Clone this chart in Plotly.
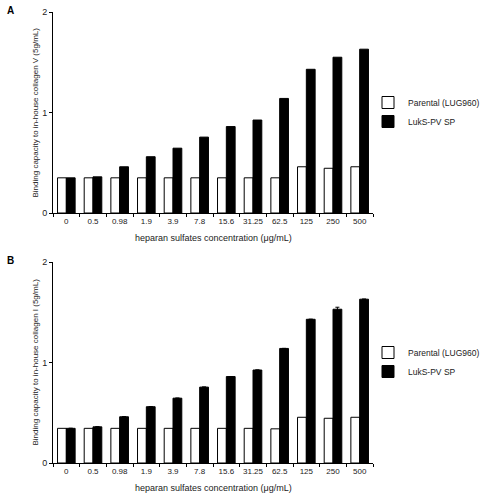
import plotly.graph_objects as go

categories = ["0", "0.5", "0.98", "1.9", "3.9", "7.8", "15.6", "31.25", "62.5", "125", "250", "500"]

parental_A = [0.35, 0.35, 0.35, 0.35, 0.35, 0.35, 0.35, 0.35, 0.35, 0.46, 0.445, 0.46]
luks_A = [0.35, 0.36, 0.46, 0.56, 0.645, 0.755, 0.86, 0.925, 1.14, 1.43, 1.55, 1.63]

parental_B = [0.345, 0.345, 0.345, 0.345, 0.345, 0.345, 0.345, 0.345, 0.34, 0.455, 0.445, 0.455]
luks_B = [0.345, 0.36, 0.46, 0.56, 0.645, 0.755, 0.86, 0.925, 1.14, 1.43, 1.53, 1.63]
luks_B_err = [0, 0, 0, 0, 0, 0, 0, 0, 0, 0, 0.02, 0]

series_names = ["Parental (LUG960)", "LukS-PV SP"]
y_titles = ["Binding capacity to in-house collagen V (5g/mL)",
            "Binding capacity to in-house collagen I (5g/mL)"]
x_title = "heparan sulfates concentration (μg/mL)"
panel_labels = ["A", "B"]

FONT = "Liberation Sans, Arial, sans-serif"
TXT = "#222222"

fig = go.Figure()

panels = [
    (parental_A, luks_A, None, "x", "y", "legend"),
    (parental_B, luks_B, luks_B_err, "x2", "y2", "legend2"),
]
for par, luk, err, xa, ya, lg in panels:
    fig.add_trace(go.Bar(x=categories, y=par, name=series_names[0], xaxis=xa, yaxis=ya,
                         marker=dict(color="white", line=dict(color="black", width=1)),
                         legend=lg))
    eb = None
    if err is not None:
        eb = dict(type="data", array=err, color="black", thickness=1, width=2)
    fig.add_trace(go.Bar(x=categories, y=luk, name=series_names[1], xaxis=xa, yaxis=ya,
                         marker=dict(color="black", line=dict(color="black", width=1)),
                         error_y=eb, legend=lg))

xd = [53 / 481, 373 / 481]
ydA = [1 - 213 / 500, 1 - 12 / 500]
ydB = [1 - 463 / 500, 1 - 262 / 500]

xcommon = dict(domain=xd, type="category", showline=True, linecolor="black", linewidth=1,
               ticks="outside", tickson="boundaries", ticklen=3, tickcolor="black",
               tickangle=0, automargin=False,
               tickfont=dict(family=FONT, size=8, color=TXT), showgrid=False, zeroline=False)
ycommon = dict(range=[0, 2], tickvals=[0, 1, 2], showline=True, linecolor="black", linewidth=1,
               ticks="outside", ticklen=3, tickcolor="black", automargin=False,
               tickfont=dict(family=FONT, size=9, color=TXT), showgrid=False, zeroline=False)

legcommon = dict(font=dict(family=FONT, size=8.5, color=TXT), bgcolor="rgba(0,0,0,0)",
                 itemwidth=30, tracegroupgap=0, xanchor="left", yanchor="middle",
                 xref="container", yref="container", x=368 / 481)

fig.update_layout(
    width=481, height=500,
    margin=dict(l=0, r=0, t=0, b=0, autoexpand=False),
    paper_bgcolor="white", plot_bgcolor="white",
    barmode="group", bargap=0.34, bargroupgap=0,
    xaxis=dict(**xcommon, anchor="y"),
    yaxis=dict(**ycommon, domain=ydA, anchor="x"),
    xaxis2=dict(**xcommon, anchor="y2"),
    yaxis2=dict(**ycommon, domain=ydB, anchor="x2"),
    legend=dict(**legcommon, y=1 - 112 / 500),
    legend2=dict(**legcommon, y=1 - 362 / 500),
    showlegend=True,
)

annotations = []
for i, (yd, top_px, bot_px) in enumerate([(ydA, 12, 213), (ydB, 262, 463)]):
    annotations.append(dict(text=f"<b>{panel_labels[i]}</b>", xref="paper", yref="paper",
                            x=5 / 481, y=1 - (top_px - 2) / 500, showarrow=False,
                            xanchor="left", yanchor="middle",
                            font=dict(family=FONT, size=10, color="black")))
    annotations.append(dict(text=y_titles[i], xref="paper", yref="paper", textangle=-90,
                            x=35 / 481, y=1 - ((top_px + bot_px) / 2) / 500, showarrow=False,
                            xanchor="center", yanchor="middle",
                            font=dict(family=FONT, size=8, color=TXT)))
    annotations.append(dict(text=x_title, xref="paper", yref="paper",
                            x=213 / 481, y=1 - (bot_px + 25) / 500, showarrow=False,
                            xanchor="center", yanchor="middle",
                            font=dict(family=FONT, size=9, color=TXT)))
fig.update_layout(annotations=annotations)

fig.write_html("out.html",
               config={"displayModeBar": False},
               post_script="document.body.style.margin='0';document.body.style.overflow='hidden';")
